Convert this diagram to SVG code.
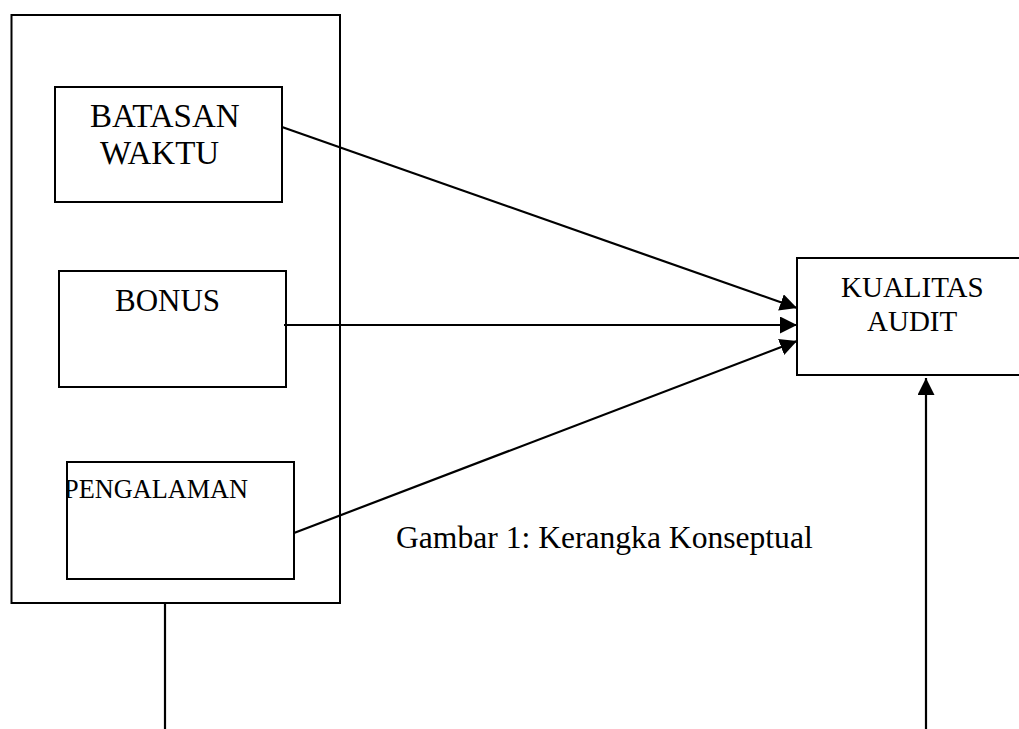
<svg xmlns="http://www.w3.org/2000/svg" width="1019" height="729" viewBox="0 0 1019 729">
<defs>
<style>
.box{fill:none;stroke:#000;stroke-width:2}
.ln{fill:none;stroke:#000;stroke-width:2.2}
.t{font-family:"Liberation Serif","Times New Roman",serif;fill:#000}
</style>
<marker id="arr" markerUnits="userSpaceOnUse" markerWidth="18" markerHeight="18" refX="17" refY="8.5" orient="auto">
<path d="M0,0 L17,8.5 L0,17 Z" fill="#000"/>
</marker>
<clipPath id="pclip"><rect x="67" y="462" width="227" height="117"/></clipPath>
</defs>
<rect width="1019" height="729" fill="#fff"/>
<g id="container">
<rect class="box" x="11.5" y="15" width="328.5" height="588"/>
</g>
<g id="batasan-waktu">
<rect class="box" x="55" y="87" width="227" height="115"/>
<text class="t" x="90" y="127" font-size="33">BATASAN</text>
<text class="t" x="100" y="164" font-size="33">WAKTU</text>
</g>
<g id="bonus">
<rect class="box" x="59" y="271" width="227" height="116"/>
<text class="t" x="115" y="311" font-size="31">BONUS</text>
</g>
<g id="pengalaman">
<text class="t" x="64" y="498" font-size="26.3" clip-path="url(#pclip)">PENGALAMAN</text>
<rect class="box" x="67" y="462" width="227" height="117"/>
</g>
<g id="kualitas-audit">
<rect class="box" x="797" y="258" width="240" height="117"/>
<text class="t" x="841" y="297" font-size="29">KUALITAS</text>
<text class="t" x="867" y="331" font-size="29">AUDIT</text>
</g>
<g id="caption">
<text class="t" x="396" y="548" font-size="31.6">Gambar 1: Kerangka Konseptual</text>
</g>
<g id="connectors">
<line class="ln" x1="282" y1="127" x2="797" y2="308" marker-end="url(#arr)"/>
<line class="ln" x1="284" y1="325" x2="797" y2="325" marker-end="url(#arr)"/>
<line class="ln" x1="294" y1="533" x2="797" y2="341" marker-end="url(#arr)"/>
<line class="ln" x1="165" y1="603" x2="165" y2="729"/>
<line class="ln" x1="926" y1="729" x2="926" y2="378" marker-end="url(#arr)"/>
</g>
</svg>
